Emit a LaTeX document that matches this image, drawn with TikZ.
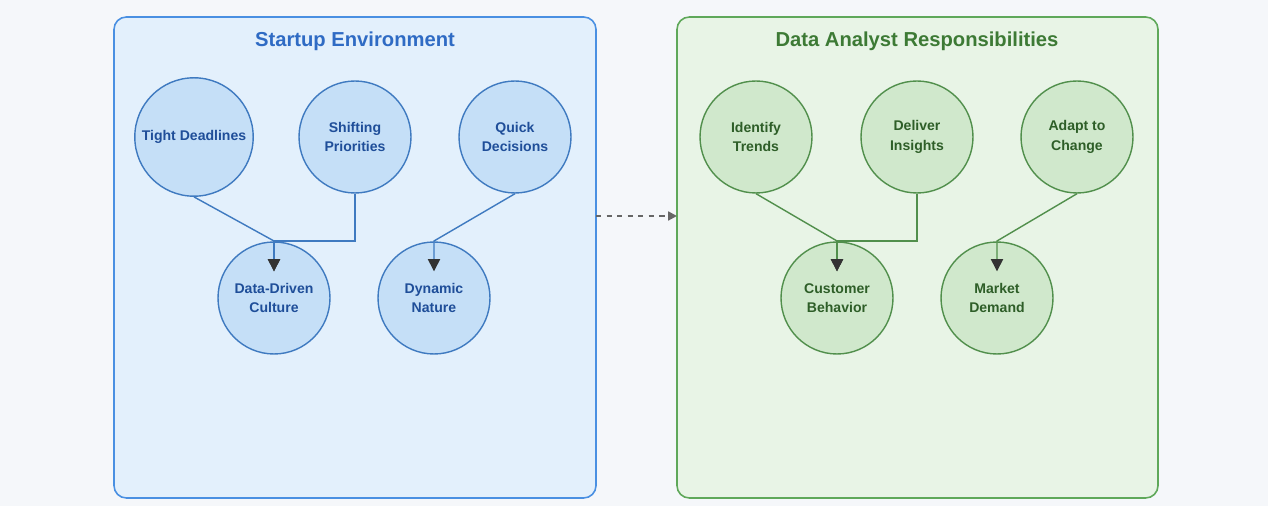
\documentclass[tikz,border=0pt]{standalone}
\usepackage{fontspec}
\setmainfont{Liberation Sans}
\usetikzlibrary{arrows.meta}
\definecolor{bgcol}{HTML}{F5F7FA}
\definecolor{bluefill}{HTML}{E3F0FC}
\definecolor{blueline}{HTML}{4A90E2}
\definecolor{bluetitle}{HTML}{2F6BC4}
\definecolor{bluecirc}{HTML}{C5DFF7}
\definecolor{bluetext}{HTML}{1F4E99}
\definecolor{greenfill}{HTML}{E8F4E6}
\definecolor{greenline}{HTML}{5FA85A}
\definecolor{greentitle}{HTML}{3D7A35}
\definecolor{greencirc}{HTML}{D0E8CC}
\definecolor{greentext}{HTML}{2E5E28}
\definecolor{arrowcol}{HTML}{333333}
\tikzset{
  panel/.style={rounded corners=7pt, line width=0.9pt},
  bubble/.style={circle, minimum size=2.24cm, line width=0.8pt, align=center,
    font=\fontsize{8}{11}\selectfont\bfseries},
  link/.style={line width=0.8pt, -{Triangle[length=7pt,width=7pt,color=arrowcol]}},
}
\begin{document}
\begin{tikzpicture}[x=0.02cm,y=-0.02cm]
\fill[bgcol] (0,0) rectangle (1268,506);
\useasboundingbox (0,0) rectangle (1268,506);

\draw[panel, fill=bluefill, draw=blueline] (114,17) rectangle (596,498);
\draw[panel, fill=greenfill, draw=greenline] (677,17) rectangle (1158,498);
\node (envtitle) at (355,41) [text=bluetitle, font=\fontsize{11.5}{14}\selectfont\bfseries] {Startup Environment};
\node (restitle) at (917,41) [text=greentitle, font=\fontsize{11.5}{14}\selectfont\bfseries] {Data Analyst Responsibilities};

\foreach \name/\x/\y/\txt in {tight/194/137/Tight Deadlines, shift/355/137/Shifting\\Priorities,
  quick/515/137/Quick\\Decisions, culture/274/298/Data-Driven\\Culture, dynamic/434/298/Dynamic\\Nature}
{
    \node (\name) at (\x,\y) [bubble, fill=bluecirc, draw=blueline!85!black, text=bluetext] {\txt};
}
\foreach \name/\x/\y/\txt in {trends/756/137/Identify\\Trends, insights/917/137/Deliver\\Insights,
  adapt/1077/137/Adapt to\\Change, customer/837/298/Customer\\Behavior, market/997/298/Market\\Demand}
{
    \node (\name) at (\x,\y) [bubble, fill=greencirc, draw=greenline!85!black, text=greentext] {\txt};
}

% joins above the lower circles
\coordinate (jc) at (274,241);
\coordinate (jd) at (434,241);
\coordinate (jcu) at (837,241);
\coordinate (jm) at (997,241);

\draw[link, draw=blueline!85!black] (tight.south) -- (jc) -- ([yshift=-0.6cm]culture.north);
\draw[link, draw=blueline!85!black] (shift.south) |- (jc) -- ([yshift=-0.6cm]culture.north);
\draw[link, draw=blueline!85!black] (quick.south) -- (jd) -- ([yshift=-0.6cm]dynamic.north);
\draw[link, draw=greenline!85!black] (trends.south) -- (jcu) -- ([yshift=-0.6cm]customer.north);
\draw[link, draw=greenline!85!black] (insights.south) |- (jcu) -- ([yshift=-0.6cm]customer.north);
\draw[link, draw=greenline!85!black] (adapt.south) -- (jm) -- ([yshift=-0.6cm]market.north);

% link between panels
\coordinate (pa) at (596,216);
\coordinate (pb) at (677,216);
\draw[line width=1.2pt, draw=gray!80!black, dashed, -{Triangle[length=5pt,width=5pt]}] (pa) -- (pb);
\end{tikzpicture}
\end{document}
